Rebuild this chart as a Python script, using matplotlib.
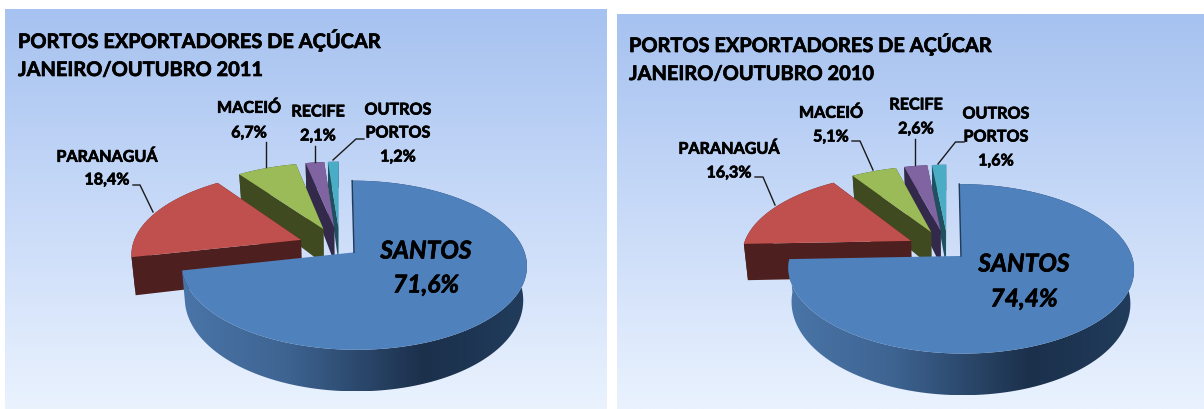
import numpy as np
from matplotlib import pyplot as plt
from matplotlib.patches import Polygon
from matplotlib import patheffects

nomes = ["SANTOS", "PARANAGUÁ", "MACEIÓ", "RECIFE", "OUTROS PORTOS"]
valores_2011 = [71.6, 18.4, 6.7, 2.1, 1.2]
valores_2010 = [74.4, 16.3, 5.1, 2.6, 1.6]
titulo_2011 = ["PORTOS EXPORTADORES DE AÇÚCAR", "JANEIRO/OUTUBRO 2011"]
titulo_2010 = ["PORTOS EXPORTADORES DE AÇÚCAR", "JANEIRO/OUTUBRO 2010"]

cores_topo = ["#4f81bd", "#c0504d", "#9bbb59", "#8064a2", "#4bacc6"]
cores_lado = ["#1f3a5a", "#4d1f1e", "#3f4a20", "#33294a", "#1f5060"]
explosao = [0.105, 0.25, 0.25, 0.25, 0.25]

FONTE = "Lato"
RX = 169.0
RY = 81.0
K = 0.15
ENCOLHE = 0.98
REFORCO = [patheffects.withStroke(linewidth=0.5, foreground="black")]


def fundo(ax, x0, x1, y0, y1):
    cores = np.array([[166, 194, 240], [200, 218, 248], [234, 242, 254]]) / 255.0
    t = np.linspace(0, 1, 200)
    img = np.stack([np.interp(t, [0, 0.5, 1], cores[:, i]) for i in range(3)], axis=1)
    ax.imshow(img[:, None, :], extent=(x0, x1, y1, y0), aspect="auto", zorder=0)


def fatia(cx, cy, ang0, ang1, e, fundo_y):
    """rim of one slice, top and bottom, from the angles in degrees"""
    meio = np.radians((ang0 + ang1) / 2.0)
    ox = e * np.cos(meio)
    oy = e * np.sin(meio)
    th = np.radians(np.linspace(ang0, ang1, 150))
    dx = np.concatenate([[ox], ox + np.cos(th)])
    dy = np.concatenate([[oy], oy + np.sin(th)])
    esc = 1 + K * dy
    xt = cx + RX * dx / esc
    yt = cy - RY * dy / esc
    xb = cx + (xt - cx) * ENCOLHE
    yb = yt + fundo_y - 9 * dy
    return xt, yt, xb, yb


def parede_santos(ax, xs, ys):
    """gradient on the side of the big slice"""
    pontos = [0.0, 0.3, 0.7, 1.0]
    cores = np.array([[74, 117, 168], [62, 100, 146], [27, 48, 75], [33, 60, 92]]) / 255.0
    t = np.linspace(0, 1, 400)
    img = np.stack([np.interp(t, pontos, cores[:, i]) for i in range(3)], axis=1)
    im = ax.imshow(img[None, :, :], extent=(xs.min(), xs.max(), ys.max(), ys.min()),
                   aspect="auto", zorder=2)
    im.set_clip_path(Polygon(np.column_stack([xs, ys]), transform=ax.transData))


def pizza(ax, valores, cx, cy):
    fim = 90.0 - 3.6 * np.cumsum(valores)
    inicio = np.concatenate([[90.0], fim[:-1]])
    # back slices first, the big one goes on top of everything
    for i in range(len(valores) - 1, -1, -1):
        xt, yt, xb, yb = fatia(cx, cy, inicio[i], fim[i], explosao[i], 32 if i == 0 else 37)
        if i == 0:
            xs = np.concatenate([xt[1:], xb[1:][::-1]])
            ys = np.concatenate([yt[1:], yb[1:][::-1]])
            parede_santos(ax, xs, ys)
        else:
            # the two cut faces and the rim
            for a, b in [(0, 1), (0, -1)]:
                ax.fill([xt[a], xt[b], xb[b], xb[a]], [yt[a], yt[b], yb[b], yb[a]],
                        color=cores_lado[i], lw=0, zorder=2)
            ax.fill(np.concatenate([xt[1:], xb[1:][::-1]]),
                    np.concatenate([yt[1:], yb[1:][::-1]]),
                    color=cores_lado[i], lw=0, zorder=2)
        ax.fill(xt, yt, color=cores_topo[i], lw=0, zorder=2)
        if i == 0:
            ax.plot([xt[0], xt[1]], [yt[0], yt[1]], color="#1f3a5a", lw=1, zorder=2)


def textos(ax, titulo, tx, ty, rotulos, santos, linhas):
    for linha, y in zip(titulo, ty):
        ax.text(tx, y + 1, linha, family=FONTE, weight="bold", fontsize=14.4,
                color="black", va="center", ha="left", zorder=4, path_effects=REFORCO)
    for texto, x, y in rotulos:
        ax.text(x, y + 1.5, texto, family=FONTE, weight="bold", fontsize=11.6,
                color="black", va="center", ha="center", zorder=4, path_effects=REFORCO)
    for texto, x, y in santos:
        ax.text(x, y, texto, family=FONTE, weight="bold", style="italic", fontsize=17.7,
                color="black", va="center", ha="center", zorder=4, path_effects=REFORCO)
    for xs, ys in linhas:
        ax.plot(xs, ys, color="#1a1a1a", lw=1.0, zorder=3)


def rotulo(i, valores):
    return "%.1f%%" % valores[i]


def main():
    fig = plt.figure(figsize=(12.04, 4.10), dpi=100, facecolor="white")
    ax = fig.add_axes([0, 0, 1, 1])

    fundo(ax, 5, 607, 10, 410)
    fundo(ax, 617, 1204, 15, 410)

    pizza(ax, valores_2011, 340, 248)
    pizza(ax, valores_2010, 948, 251)

    v = [rotulo(i, valores_2011).replace(".", ",") for i in range(5)]
    textos(ax, titulo_2011, 18, [40, 70],
           [(nomes[2], 249, 108), (v[2], 249, 133),
            (nomes[3], 318, 112), (v[3], 318, 136),
            ("OUTROS", 398, 110), ("PORTOS", 398, 133), (v[4], 398, 157),
            (nomes[1], 107, 157), (v[1], 107, 180)],
           [(nomes[0], 426, 252), (v[0], 426, 286)],
           [([133, 140, 153], [186, 186, 213]),
            ([266, 266], [143, 168]),
            ([314.5, 314.5], [147, 163]),
            ([364, 356, 333], [140, 140, 161])])

    v = [rotulo(i, valores_2010).replace(".", ",") for i in range(5)]
    textos(ax, titulo_2010, 629, [44, 74],
           [(nomes[2], 831, 113), (v[2], 831, 137),
            (nomes[3], 916, 105), (v[3], 916, 129),
            ("OUTROS", 996, 114), ("PORTOS", 996, 137), (v[4], 996, 161),
            (nomes[1], 729, 149), (v[1], 729, 173)],
           [(nomes[0], 1024, 265), (v[0], 1024, 300)],
           [([755, 763, 775], [178, 178, 206]),
            ([852, 860, 873], [142, 142, 171]),
            ([915, 915], [140, 166]),
            ([964, 955.5, 938], [143, 143, 165])])

    ax.set_xlim(0, 1204)
    ax.set_ylim(410, 0)
    ax.axis("off")
    fig.savefig("out.png", dpi=100, facecolor="white")


if __name__ == "__main__":
    main()
